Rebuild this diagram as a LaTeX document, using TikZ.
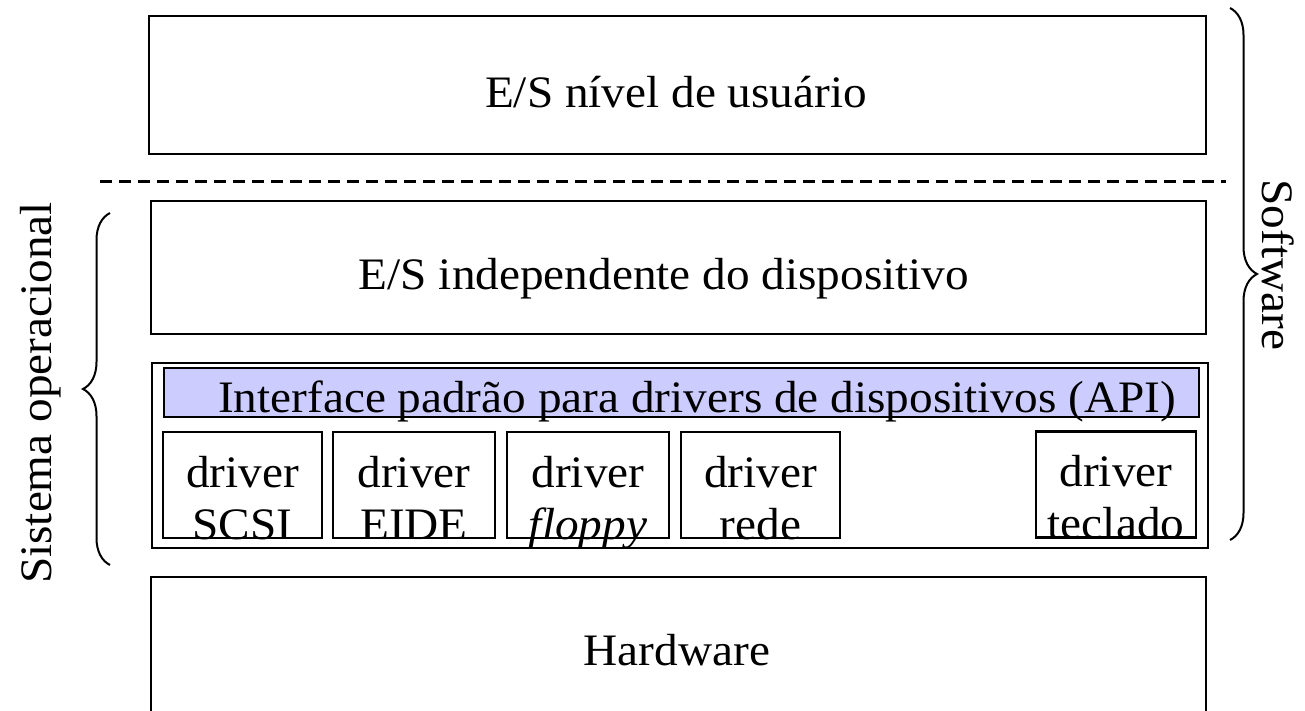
\documentclass[tikz,border=0pt]{standalone}
\usepackage{fontspec}
\setmainfont{Liberation Serif}[FakeStretch=1.05]
\usetikzlibrary{decorations.pathreplacing}
\definecolor{apifill}{HTML}{CCCCFF}
\begin{document}
\begin{tikzpicture}[x=1pt,y=-1pt,
  font=\fontsize{45}{54}\selectfont,
  layer/.style={draw, line width=2.2pt, inner sep=0pt, anchor=north west},
  drvbox/.style={draw, line width=2.2pt, inner sep=0pt, minimum width=159pt, minimum height=106pt},
  txt/.style={inner sep=0pt, anchor=base},
  curly/.style={decorate, decoration={brace, amplitude=27pt}, line width=2pt}]
\useasboundingbox (0,0) rectangle (1305,710);
\clip (0,0) rectangle (1305,710);

% user-level I/O
\node[layer, minimum width=1057pt, minimum height=138pt] (user) at (148,15) {};
\node[txt] (usertxt) at (676,107) {E/S nível de usuário};

% user / kernel boundary
\coordinate (sepL) at (100,181);
\coordinate (sepR) at (1226,181);
\draw[line width=3pt, dash pattern=on 12pt off 7pt] (sepL) -- (sepR);

% device-independent I/O
\node[layer, minimum width=1055pt, minimum height=133pt] (indep) at (150,200) {};
\node[txt] (indeptxt) at (664,289) {E/S independente do dispositivo};

% driver layer
\node[layer, minimum width=1056pt, minimum height=185pt] (drivers) at (151,362) {};
\node[layer, fill=apifill, minimum width=1035pt, minimum height=49pt] (api) at (163,367) {};
\node[txt] (apitxt) at (697,412) {Interface padrão para drivers de dispositivos (API)};

\node[drvbox] (scsi) at (242.5,485) {};
\node[drvbox, minimum width=162pt] (eide) at (414,485) {};
\node[drvbox, minimum width=162pt] (floppy) at (588,485) {};
\node[drvbox] (rede) at (760.5,485) {};
\node[drvbox, minimum width=160pt] (teclado) at (1116,484.5) {};

\foreach \n/\second in {scsi/SCSI, eide/EIDE, floppy/\textit{floppy}, rede/rede, teclado/teclado}{
  \node[txt] at ([yshift=-2pt]\n.center) {driver};
  \node[txt] at ([yshift=-54pt]\n.center) {\second};
}

% hardware
\node[layer, minimum width=1055pt, minimum height=150pt] (hw) at (150,576) {};
\node[txt] (hwtxt) at (677,665) {Hardware};

% braces and their labels
\coordinate (soB) at (110,565);
\coordinate (soT) at (110,213);
\draw[curly] (soB) -- (soT);
\node[txt, rotate=90] (so) at (51,393) {Sistema operacional};

\coordinate (swT) at (1230,8);
\coordinate (swB) at (1230,540);
\draw[curly] (swT) -- (swB);
\node[txt, rotate=-90] (sw) at (1262,265) {Software};
\end{tikzpicture}
\end{document}
